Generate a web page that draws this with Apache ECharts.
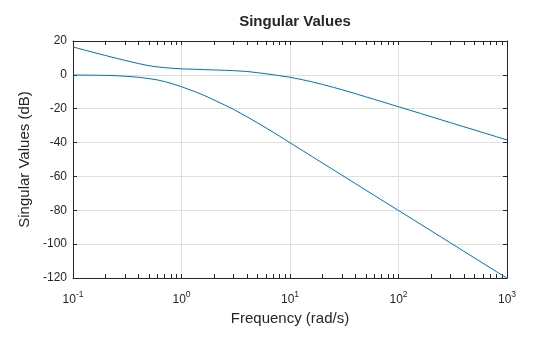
<!DOCTYPE html>
<html>
<head>
<meta charset="utf-8">
<script src="https://cdn.jsdelivr.net/npm/echarts@6/dist/echarts.min.js"></script>
<style>html,body{margin:0;padding:0;background:#fff}#c{width:560px;height:337px}</style>
</head>
<body>
<div id="c"></div>
<script>
// Frequencies (rad/s) sampled along the curves
const freq = [0.1, 0.13, 0.16, 0.2, 0.25, 0.3, 0.4, 0.5, 0.6, 0.7, 0.8, 1, 1.3, 1.6, 2, 2.5, 3, 4, 5, 6, 7, 8, 10,
  13, 16, 20, 25, 30, 40, 50, 60, 80, 100, 130, 160, 200, 250, 300, 400, 500, 600, 800, 1000];
// Upper singular value (dB)
const sigmaUpper = [16.5, 14.5, 13.0, 11.4, 9.8, 8.6, 6.7, 5.4, 4.7, 4.25, 3.95, 3.55, 3.3, 3.1, 2.9, 2.7, 2.5, 2.0, 1.3, 0.65, 0.05, -0.5, -1.4,
  -2.87, -4.16, -5.69, -7.34, -8.75, -11.1, -12.97, -14.5, -16.95, -18.84, -21.07, -22.83, -24.74, -26.64, -28.19, -30.64, -32.54, -34.09, -36.54, -38.44];
// Lower singular value (dB)
const sigmaLower = [-0.1, -0.15, -0.2, -0.3, -0.5, -0.8, -1.4, -2.2, -3.0, -4.0, -5.0, -7.0, -9.7, -12.0, -14.9, -17.8, -20.3, -24.7, -28.3, -31.3, -33.9, -36.2, -40.1,
  -44.66, -48.27, -52.15, -56.03, -59.2, -64.2, -68.1, -71.25, -76.25, -80.1, -84.66, -88.27, -92.15, -96.03, -99.2, -104.2, -108.1, -111.25, -116.25, -120.1];
// Axis ticks
const xMajorTicks = [0.1, 1, 10, 100, 1000];
const yTicks = [-120, -100, -80, -60, -40, -20, 0, 20];

const xMinorTicks = [];
for (let d = 0.1; d < 999; d *= 10) {
  for (let k = 2; k <= 9; k++) xMinorTicks.push(+(d * k).toPrecision(3));
}
const xAllTicks = xMajorTicks.concat(xMinorTicks);

const FONT = 'Liberation Sans, Arial, Helvetica, sans-serif';
const TXT = '#262626';
const LINE = '#0072BD';
const GRID = '#dfdfdf';

function pairs(ys) { return freq.map((f, i) => [f, ys[i]]); }

const chart = echarts.init(document.getElementById('c'), null, {renderer: 'canvas'});
const xBase = {type: 'log', logBase: 10, min: 0.1, max: 1000, gridIndex: 0};
const yBase = {type: 'value', min: -120, max: 20, interval: 20, gridIndex: 0};

chart.setOption({
  animation: false,
  backgroundColor: '#ffffff',
  title: {
    text: 'Singular Values', left: 290, top: 9, textAlign: 'center',
    textStyle: {fontFamily: FONT, fontSize: 15, fontWeight: 'bold', color: TXT}
  },
  grid: {left: 73, right: 53, top: 41, bottom: 59, containLabel: false},
  xAxis: [
    Object.assign({}, xBase, {
      position: 'bottom',
      name: 'Frequency (rad/s)', nameLocation: 'middle', nameGap: 33,
      nameTextStyle: {fontFamily: FONT, fontSize: 15, color: TXT},
      axisLine: {show: true, onZero: false, lineStyle: {color: TXT, width: 1}},
      axisTick: {show: true, inside: true, length: 4, lineStyle: {color: TXT}},
      axisLabel: {
        show: true, margin: 12,
        formatter: function (v) { return '{b|10}{s|' + Math.round(Math.log10(v)) + '}'; },
        rich: {
          b: {fontFamily: FONT, fontSize: 12, color: TXT, padding: [4, 0, 0, 0]},
          s: {fontFamily: FONT, fontSize: 8.5, color: TXT, verticalAlign: 'top'}
        }
      },
      splitLine: {show: true, lineStyle: {color: GRID, width: 1}}
    }),
    Object.assign({}, xBase, {
      position: 'bottom',
      axisLine: {show: false, onZero: false},
      axisTick: {show: true, inside: true, length: 4, lineStyle: {color: TXT}, customValues: xMinorTicks},
      axisLabel: {show: false},
      splitLine: {show: false}
    }),
    Object.assign({}, xBase, {
      position: 'top',
      axisLine: {show: true, onZero: false, lineStyle: {color: TXT, width: 1}},
      axisTick: {show: true, inside: true, length: 4, lineStyle: {color: TXT}, customValues: xAllTicks},
      axisLabel: {show: false},
      splitLine: {show: false}
    })
  ],
  yAxis: [
    Object.assign({}, yBase, {
      position: 'left',
      name: 'Singular Values (dB)', nameLocation: 'middle', nameGap: 40,
      nameTextStyle: {fontFamily: FONT, fontSize: 15, color: TXT},
      axisLine: {show: true, onZero: false, lineStyle: {color: TXT, width: 1}},
      axisTick: {show: true, inside: true, length: 4, lineStyle: {color: TXT}},
      axisLabel: {show: true, margin: 6, fontFamily: FONT, fontSize: 12, color: TXT},
      splitLine: {show: true, lineStyle: {color: GRID, width: 1}}
    }),
    Object.assign({}, yBase, {
      position: 'right',
      axisLine: {show: true, onZero: false, lineStyle: {color: TXT, width: 1}},
      axisTick: {show: true, inside: true, length: 4, lineStyle: {color: TXT}},
      axisLabel: {show: false},
      splitLine: {show: false}
    })
  ],
  series: [
    {type: 'line', name: 'upper', xAxisIndex: 0, yAxisIndex: 0, data: pairs(sigmaUpper),
     showSymbol: false, smooth: false, lineStyle: {color: LINE, width: 1}, clip: true},
    {type: 'line', name: 'lower', xAxisIndex: 0, yAxisIndex: 0, data: pairs(sigmaLower),
     showSymbol: false, smooth: false, lineStyle: {color: LINE, width: 1}, clip: true}
  ]
});
</script>
</body>
</html>
